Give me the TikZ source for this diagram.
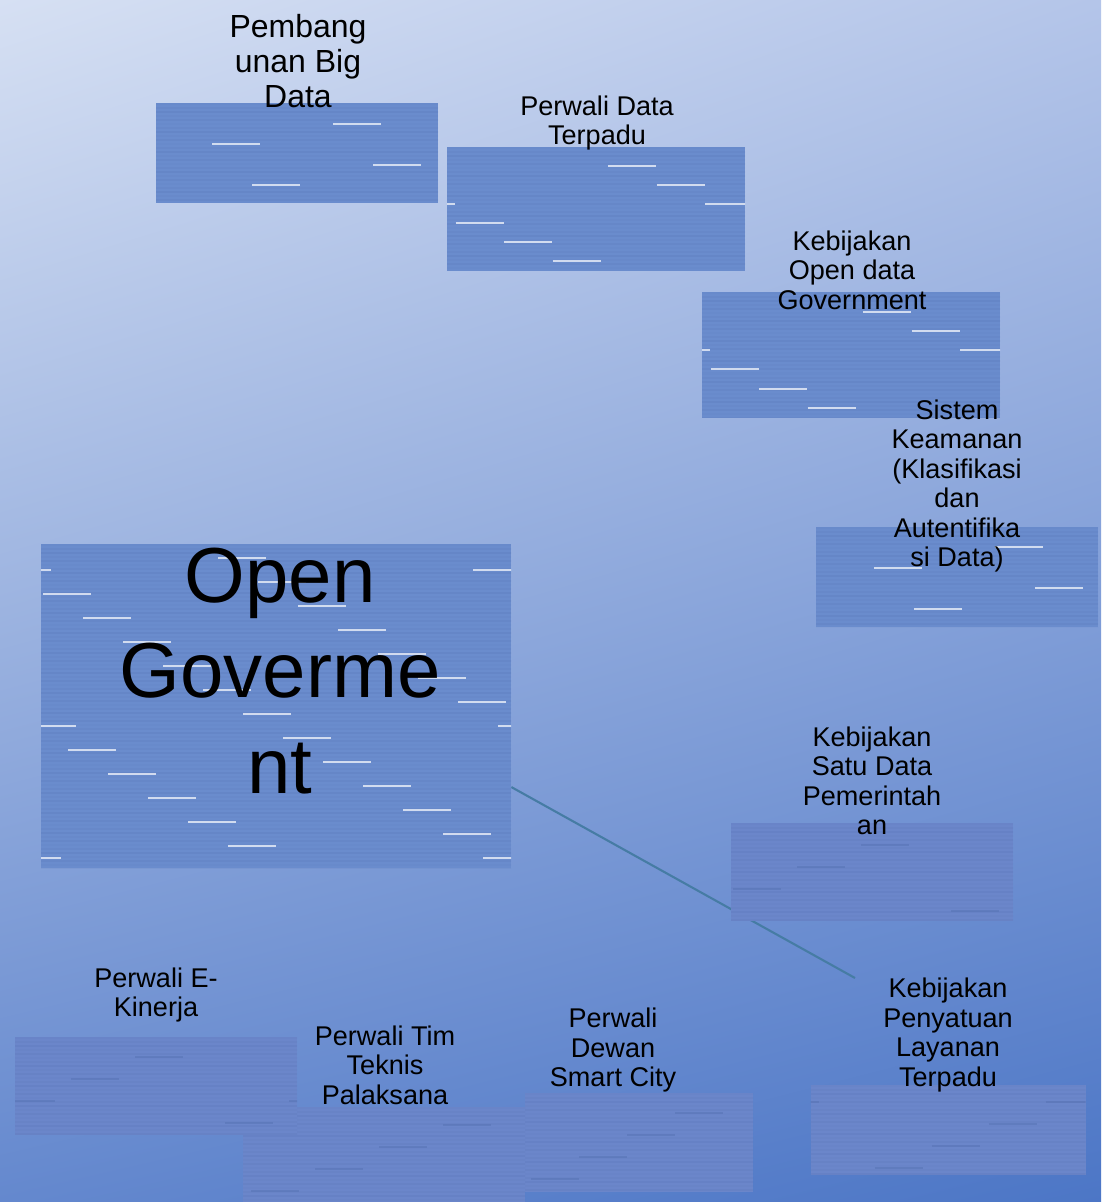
\documentclass[tikz,border=0pt]{standalone}
\usepackage{fontspec}
\setmainfont{Liberation Sans}
\usetikzlibrary{shadings}

\definecolor{bgtl}{RGB}{214,224,243}
\definecolor{bgtr}{RGB}{180,197,233}
\definecolor{bgbl}{RGB}{100,136,206}
\definecolor{bgbr}{RGB}{76,118,198}
\definecolor{waterblue}{RGB}{106,140,205}
\definecolor{waterdark}{RGB}{84,112,176}
\definecolor{linkteal}{RGB}{70,124,164}

\newcommand\px{0.02cm}
% texture of one box: stripes, then short dashes (colour, opacity);
% uses \w, \firstx, \firsty, \stepx, \stepy of the loop that places the box
\newcommand\watertex[2]{%
  \foreach \s [evaluate=\s as \o using {0.05+0.14*mod(\s*7,5)/4}] in {0,...,82}
    \fill[waterdark, opacity=\o] (path picture bounding box.north west)
      ++(0,\s*4) rectangle ++(480,2);
  \foreach \k [evaluate=\k as \dashx using {mod(\firstx+\k*\stepx,\w)}] in {0,...,26} {
    \draw[#1, opacity=#2, line width=2*\px] (path picture bounding box.north west)
      ++(\dashx,{\firsty+\k*\stepy}) -- ++(48,0);
    \draw[#1, opacity=#2, line width=2*\px] (path picture bounding box.north west)
      ++(\dashx-\w,{\firsty+\k*\stepy}) -- ++(48,0);
  }}

\tikzset{
  water/.style={inner sep=0pt, fill=waterblue, path picture={\watertex{white}{0.7}}},
  water blur/.style={inner sep=0pt, fill=waterblue!96!violet, path picture={\watertex{waterdark}{0.45}}},
  lbl/.style={align=center, inner sep=0pt, font=\fontsize{15.4}{16.8}\selectfont},
  lbl big/.style={lbl, font=\fontsize{18.2}{19.9}\selectfont},
  lbl huge/.style={lbl, font=\fontsize{44.4}{54.6}\selectfont},
  link/.style={draw=linkteal, line width=1.2pt},
}

\begin{document}
\begin{tikzpicture}[x=0.02cm, y=-0.02cm]
  \useasboundingbox (0,0) rectangle (1101,1202);
  \shade[upper left=bgtl, upper right=bgtr, lower left=bgbl, lower right=bgbr]
    (0,0) rectangle (1101,1202);

  % upper boxes
  \foreach \n/\x/\y/\w/\h/\firstx/\firsty/\stepx/\stepy in {
      bigdata/297/153/282/100/177/21/161/20.5,
      perwali-data/596/209/298/124/161/19/48.5/19,
      opendata/851/355/298/125/161/20/48.5/19,
      keamanan/957/577/282/100/179/20/161/20.5,
      gov/276/706/470/324/177/14/255/12}
    \node [water, minimum width=\w*\px, minimum height=\h*\px] (\n) at (\x,\y) {};

  \coordinate (link-end) at (855,978);
  \draw [link] (gov.-19) -- (link-end);

  % lower boxes
  \foreach \n/\x/\y/\w/\h/\firstx/\firsty/\stepx/\stepy in {
      satudata/872/872/282/98/130/22/218/22,
      penyatuan/948/1130/275/90/235/17/218/22,
      dewan/639/1142/228/99/150/20/180/22,
      timteknis/384/1156/282/98/200/18/218/22,
      ekinerja/156/1086/282/98/120/20/218/22}
    \node [water blur, minimum width=\w*\px, minimum height=\h*\px] (\n) at (\x,\y) {};

  \node [lbl big] (bigdata-lbl) at (298,61) {Pembang\\unan Big\\Data};
  \foreach \n/\x/\y/\t in {perwali-data/597/123/{Perwali Data\\Terpadu},
      opendata/852/270/{Kebijakan\\Open data\\Government},
      keamanan/957/486/{Sistem\\Keamanan\\(Klasifikasi\\dan\\Autentifika\\si Data)},
      satudata/872/781/{Kebijakan\\Satu Data\\Pemerintah\\an},
      ekinerja/156/995/{Perwali E-\\Kinerja},
      timteknis/385/1065/{Perwali Tim\\Teknis\\Palaksana},
      dewan/613/1050/{Perwali\\Dewan\\Smart City},
      penyatuan/948/1035/{Kebijakan\\Penyatuan\\Layanan\\Terpadu}}
    \node [lbl] (\n-lbl) at (\x,\y) {\t};
  \node [lbl huge] (gov-lbl) at (280,671) {Open\\Goverme\\nt};
\end{tikzpicture}
\end{document}
